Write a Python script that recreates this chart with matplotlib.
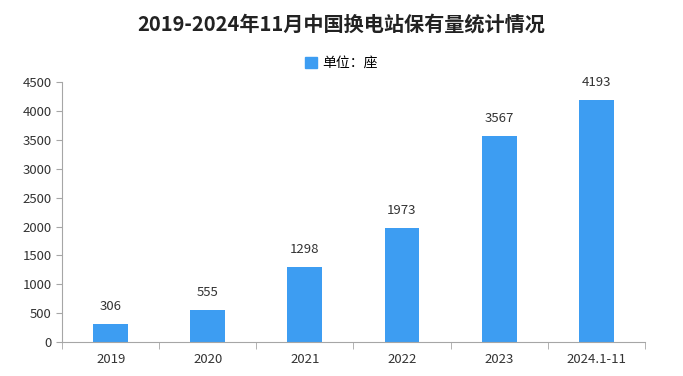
import matplotlib.pyplot as plt
from matplotlib.patches import Patch
import numpy as np

plt.rcParams['font.family'] = ['Noto Sans CJK SC', 'DejaVu Sans']

# 换电站保有量 (座)
years = ['2019', '2020', '2021', '2022', '2023', '2024.1-11']
stations = [306, 555, 1298, 1973, 3567, 4193]

bar_color = '#3d9df2'
axis_color = '#a6a6a6'

fig = plt.figure(figsize=(6.83, 3.76), dpi=100)
ax = fig.add_axes([0.091, 0.090, 0.853, 0.692])

x = np.arange(len(years))
bars = ax.bar(x, stations, width=0.36, color=bar_color)

# value labels above bars
for xi, v in zip(x, stations):
    ax.text(xi, v + 190, str(v), ha='center', va='bottom', fontsize=9.5, color='#333333')

ax.set_xlim(-0.5, len(years) - 0.5)
ax.set_ylim(0, 4500)
ax.set_yticks(np.arange(0, 4501, 500))
ax.tick_params(axis='y', labelsize=9.5, colors='#333333', length=4, color=axis_color)

# category labels centred, tick marks on boundaries
ax.set_xticks(x)
ax.set_xticklabels(years, fontsize=9.5, color='#333333')
ax.tick_params(axis='x', length=0, pad=8)
ax.set_xticks(np.arange(-0.5, len(years)), minor=True)
ax.tick_params(axis='x', which='minor', length=5, color=axis_color)

for side in ['top', 'right']:
    ax.spines[side].set_visible(False)
ax.spines['left'].set_color(axis_color)
ax.spines['bottom'].set_color(axis_color)

fig.text(0.5, 0.937, '2019-2024年11月中国换电站保有量统计情况', ha='center', va='center',
         fontsize=14.5, fontweight='bold', color='#222222')

handles = [Patch(color=bar_color, label='单位：座')]
fig.legend(handles=handles, loc='center', bbox_to_anchor=(0.5, 0.832), frameon=False,
           fontsize=10, handlelength=0.8, handleheight=0.8, handletextpad=0.4)

fig.savefig('out.png', dpi=100)
